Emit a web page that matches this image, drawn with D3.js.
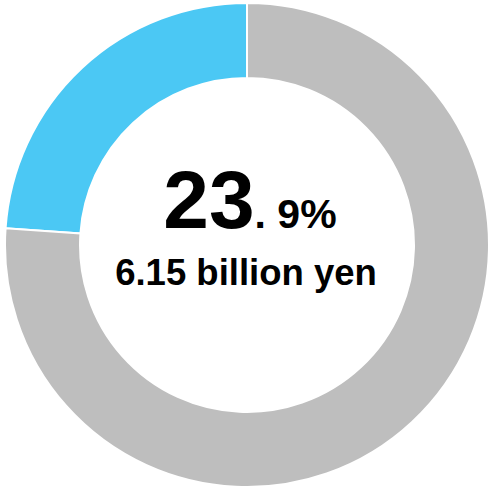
<!DOCTYPE html>
<html>
<head>
<meta charset="utf-8">
<script src="https://cdn.jsdelivr.net/npm/d3@7"></script>
<style>
  body { margin: 0; background: #fff; }
  svg { display: block; }
  text { font-family: "Liberation Sans", Arial, sans-serif; font-weight: bold; fill: #000; }
</style>
</head>
<body>
<script>
// data
var labels = ["share", "rest"];
var values = [23.9, 76.1];
var colors = ["#4bc8f4", "#bebebe"];
var bigPart = "23";
var smallPart = ". 9%";
var amountLabel = "6.15 billion yen";

// sizes
var width = 491, height = 487;
var cx = 247, cy = 245;
var outerR = 242, innerR = 167;

var svg = d3.select("body").append("svg")
    .attr("width", width)
    .attr("height", height);

var g = svg.append("g").attr("transform", "translate(" + cx + "," + cy + ")");

// share goes counter-clockwise from the top
var pie = d3.pie().sort(null).value(function(d){ return d; })
    .startAngle(0).endAngle(-2 * Math.PI);
var arc = d3.arc().innerRadius(innerR).outerRadius(outerR);

g.selectAll("path")
    .data(pie(values))
    .enter().append("path")
    .attr("d", arc)
    .attr("fill", function(d, i){ return colors[i]; })
    .attr("stroke", "#fff")
    .attr("stroke-width", 2);

// centre labels
var pct = svg.append("text")
    .attr("x", 250)
    .attr("y", 228)
    .attr("text-anchor", "middle");
pct.append("tspan").style("font-size", "82px").text(bigPart);
pct.append("tspan").style("font-size", "41px").text(smallPart);

svg.append("text")
    .attr("x", 246)
    .attr("y", 285)
    .attr("text-anchor", "middle")
    .style("font-size", "36.5px")
    .text(amountLabel);
</script>
</body>
</html>
